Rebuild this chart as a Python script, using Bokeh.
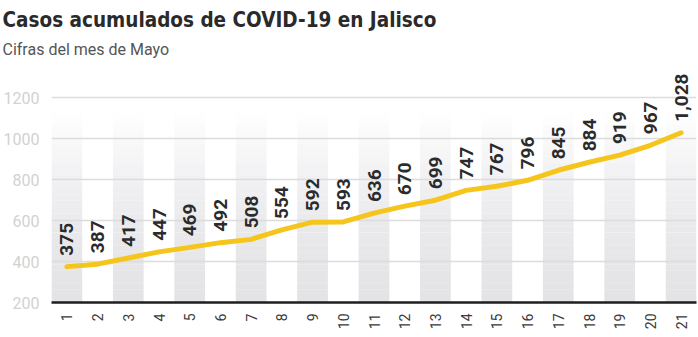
import math
from bokeh.plotting import figure
from bokeh.models import Range1d, FixedTicker, Title, ColumnDataSource
from bokeh.core.properties import value
from bokeh.embed import file_html
from bokeh.resources import INLINE

# ---- data ----
days = list(range(1, 22))
day_labels = [str(d) for d in days]
cases = [375, 387, 417, 447, 469, 492, 508, 554, 592, 593, 636, 670, 699, 747,
         767, 796, 845, 884, 919, 967, 1028]
y_ticks = [200, 400, 600, 800, 1000, 1200]

title_text = "Casos acumulados de COVID-19 en Jalisco"
subtitle_text = "Cifras del mes de Mayo"

Y0, Y1 = 200, 1361
BAND_TOP = 1130

p = figure(width=698, height=337, output_backend="svg", toolbar_location=None,
           title=None,
           x_range=Range1d(0.5, 21.5), y_range=Range1d(Y0, Y1),
           min_border_left=45, min_border_right=2, min_border_top=64,
           min_border_bottom=35)
p.outline_line_color = None
p.background_fill_color = "white"
p.border_fill_color = "white"

# ---- alternating gradient bands ----
N = 30
def band_color(t):
    base = (228, 228, 231)
    f = t ** 1.7
    c = [round(b + (255 - b) * f) for b in base]
    return "#%02x%02x%02x" % tuple(c)

lefts, rights, bottoms, tops, colors = [], [], [], [], []
for d in days:
    if d % 2 == 1:
        for k in range(N):
            b = Y0 + (BAND_TOP - Y0) * k / N
            t = Y0 + (BAND_TOP - Y0) * (k + 1) / N
            lefts.append(d - 0.5)
            rights.append(d + 0.5)
            bottoms.append(b)
            tops.append(t + 0.5)
            colors.append(band_color((k + 0.5) / N))
p.quad(left=lefts, right=rights, bottom=bottoms, top=tops, fill_color=colors,
       line_color=None, level="image")

# ---- grid ----
p.xgrid.grid_line_color = None
p.ygrid.grid_line_color = "#dcdcdc"
p.ygrid.grid_line_width = 1.5
p.ygrid.level = "underlay"

# ---- axes ----
p.yaxis.ticker = FixedTicker(ticks=y_ticks)
p.yaxis.axis_line_color = None
p.yaxis.major_tick_line_color = None
p.yaxis.minor_tick_line_color = None
p.yaxis.major_label_text_color = "#d2d2d2"
p.yaxis.major_label_text_font = "Roboto"
p.yaxis.major_label_text_font_size = "16px"
p.yaxis.major_label_standoff = 6

p.xaxis.ticker = FixedTicker(ticks=days)
p.xaxis.major_label_overrides = {d: lab for d, lab in zip(days, day_labels)}
p.xaxis.axis_line_color = "#1e1e1e"
p.xaxis.axis_line_width = 2.5
p.xaxis.major_tick_line_color = None
p.xaxis.minor_tick_line_color = None
p.xaxis.major_label_orientation = math.pi / 2
p.xaxis.major_label_text_color = "#3a3a3a"
p.xaxis.major_label_text_font = "Roboto"
p.xaxis.major_label_text_font_size = "14px"
p.xaxis.major_label_standoff = 5

# ---- line and labels ----
src = ColumnDataSource(dict(x=days, y=cases, lab=[f"{v:,}" for v in cases]))
p.line("x", "y", source=src, line_color="#f6c51b", line_width=5,
       line_join="round", line_cap="round")
p.text("x", "y", text="lab", source=src, angle=math.pi / 2,
       text_align="left", text_baseline="middle", y_offset=-11,
       text_font=value("Roboto"), text_font_style="bold",
       text_font_size="19px", text_color="#2b2b2b")

# ---- titles ----
p.add_layout(Title(text=subtitle_text, text_font="Roboto",
                   text_font_size="16px", text_color="#555555",
                   text_font_style="normal", align="left", offset=-49,
                   standoff=12), "above")
p.add_layout(Title(text=title_text, text_font="DejaVu Sans Condensed",
                   text_font_style="bold", text_font_size="20.5px",
                   text_color="#2a2a2a", align="left", offset=-49,
                   text_baseline="alphabetic", standoff=0), "above")

open("out.html", "w").write(file_html(p, INLINE))
